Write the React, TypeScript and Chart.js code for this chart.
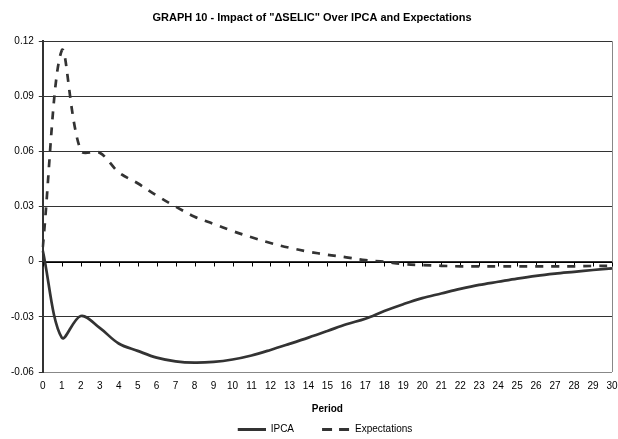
import React, { useEffect, useRef } from "react";
import { Chart, registerables } from "chart.js";

Chart.register(...registerables);

const chartTitle = 'GRAPH 10 - Impact of "ΔSELIC" Over IPCA and Expectations';
const xAxisTitle = "Period";

const periods = [
  "0", "1", "2", "3", "4", "5", "6", "7", "8", "9", "10",
  "11", "12", "13", "14", "15", "16", "17", "18", "19", "20",
  "21", "22", "23", "24", "25", "26", "27", "28", "29", "30",
];

const ipca = [
  0.006, -0.0413, -0.0295, -0.036, -0.0445, -0.0485, -0.0522, -0.0542, -0.0549, -0.0545, -0.0532,
  -0.051, -0.048, -0.0447, -0.0413, -0.0377, -0.034, -0.031, -0.0268, -0.0231, -0.0198,
  -0.0173, -0.0148, -0.0126, -0.0109, -0.0092, -0.0077, -0.0065, -0.0055, -0.0045, -0.0036,
];

const expectations = [
  0.008, 0.115, 0.0605, 0.0593, 0.0487, 0.0427, 0.036, 0.030, 0.0245, 0.0206, 0.0167,
  0.0133, 0.0102, 0.0076, 0.0055, 0.0038, 0.0024, 0.0009, 0.0, -0.0013, -0.0018,
  -0.0022, -0.0025, -0.0025, -0.0025, -0.0025, -0.0025, -0.0025, -0.0025, -0.0023, -0.0022,
];

const yMin = -0.06;
const yMax = 0.12;
const yStep = 0.03;

const FONT = '"Liberation Sans", Arial, sans-serif';
const LINE_COLOR = "#333";

function legendSample(dash: number[] | null): HTMLCanvasElement {
  // 54px wide box; the visible 28px sample sits at the right end
  const c = document.createElement("canvas");
  c.width = 54;
  c.height = 3;
  const g = c.getContext("2d")!;
  g.strokeStyle = LINE_COLOR;
  g.lineWidth = 3;
  if (dash) g.setLineDash(dash);
  g.beginPath();
  g.moveTo(26, 1.5);
  g.lineTo(54, 1.5);
  g.stroke();
  return c;
}

const framePlugin = {
  id: "frame",
  beforeDatasetsDraw(chart: any) {
    const { ctx, chartArea, scales } = chart;
    const y0 = Math.round(scales.y.getPixelForValue(0)) + 0.5;
    ctx.save();
    ctx.strokeStyle = "#888";
    ctx.lineWidth = 1;
    ctx.beginPath();
    ctx.moveTo(Math.round(chartArea.right) + 0.5, chartArea.top);
    ctx.lineTo(Math.round(chartArea.right) + 0.5, chartArea.bottom);
    ctx.stroke();
    ctx.strokeStyle = "#000";
    ctx.lineWidth = 1;
    ctx.beginPath();
    ctx.moveTo(chartArea.left, y0);
    ctx.lineTo(chartArea.right, y0);
    for (let i = 0; i < periods.length; i++) {
      const x = Math.round(scales.x.getPixelForValue(i)) + 0.5;
      ctx.moveTo(x, y0);
      ctx.lineTo(x, y0 + 4);
    }
    ctx.stroke();
    ctx.restore();
  },
};

export default function App() {
  const ref = useRef<HTMLCanvasElement | null>(null);

  useEffect(() => {
    if (!ref.current) return;
    const chart = new Chart(ref.current, {
      type: "line",
      data: {
        labels: periods,
        datasets: [
          {
            label: "IPCA",
            data: ipca,
            borderColor: LINE_COLOR,
            backgroundColor: LINE_COLOR,
            borderWidth: 2.7,
            pointRadius: 0,
            pointStyle: legendSample(null) as any,
            tension: 0.35,
            fill: false,
          },
          {
            label: "Expectations",
            data: expectations,
            borderColor: LINE_COLOR,
            backgroundColor: LINE_COLOR,
            borderWidth: 2.7,
            borderDash: [8, 8],
            pointRadius: 0,
            pointStyle: legendSample([10, 7]) as any,
            tension: 0.35,
            fill: false,
          },
        ],
      },
      options: {
        animation: false,
        responsive: true,
        maintainAspectRatio: false,
        layout: { padding: { left: 6, right: 0, top: 0, bottom: 0 } },
        plugins: {
          title: {
            display: true,
            text: chartTitle,
            color: "#000",
            font: { family: FONT, size: 11, weight: "bold" },
            padding: { top: 11, bottom: 17 },
          },
          legend: {
            display: true,
            position: "bottom",
            labels: {
              color: "#000",
              font: { family: FONT, size: 10 },
              usePointStyle: true,
              pointStyleWidth: 54,
              boxHeight: 10,
              padding: 2,
            },
          },
          tooltip: { enabled: false },
        },
        scales: {
          x: {
            type: "category",
            offset: false,
            grid: { display: false, drawTicks: false },
            border: { display: false },
            ticks: {
              color: "#000",
              font: { family: FONT, size: 10 },
              autoSkip: false,
              maxRotation: 0,
              padding: 8,
            },
            title: {
              display: true,
              text: xAxisTitle,
              color: "#000",
              font: { family: FONT, size: 10, weight: "bold" },
              padding: { top: 3, bottom: 7 },
            },
            afterFit: (scale: any) => {
              scale.paddingRight = 6;
            },
          },
          y: {
            min: yMin,
            max: yMax,
            grid: {
              color: (c: any) => (c.tick && Math.abs(c.tick.value - yMin) < 1e-9 ? "#888" : "#333"),
              tickColor: "#333",
              tickLength: 4,
              drawTicks: true,
            },
            border: { display: true, color: "#333", width: 2 },
            ticks: {
              stepSize: yStep,
              color: "#000",
              font: { family: FONT, size: 10 },
              padding: 5,
              callback: (v: any) => {
                const n = Math.round(Number(v) * 100) / 100;
                return n === 0 ? "0" : n.toFixed(2);
              },
            },
          },
        },
      },
      plugins: [framePlugin],
    });
    return () => chart.destroy();
  }, []);

  return (
    <div style={{ position: "absolute", left: 0, top: 0, width: 618, height: 444 }}>
      <canvas ref={ref} />
    </div>
  );
}
